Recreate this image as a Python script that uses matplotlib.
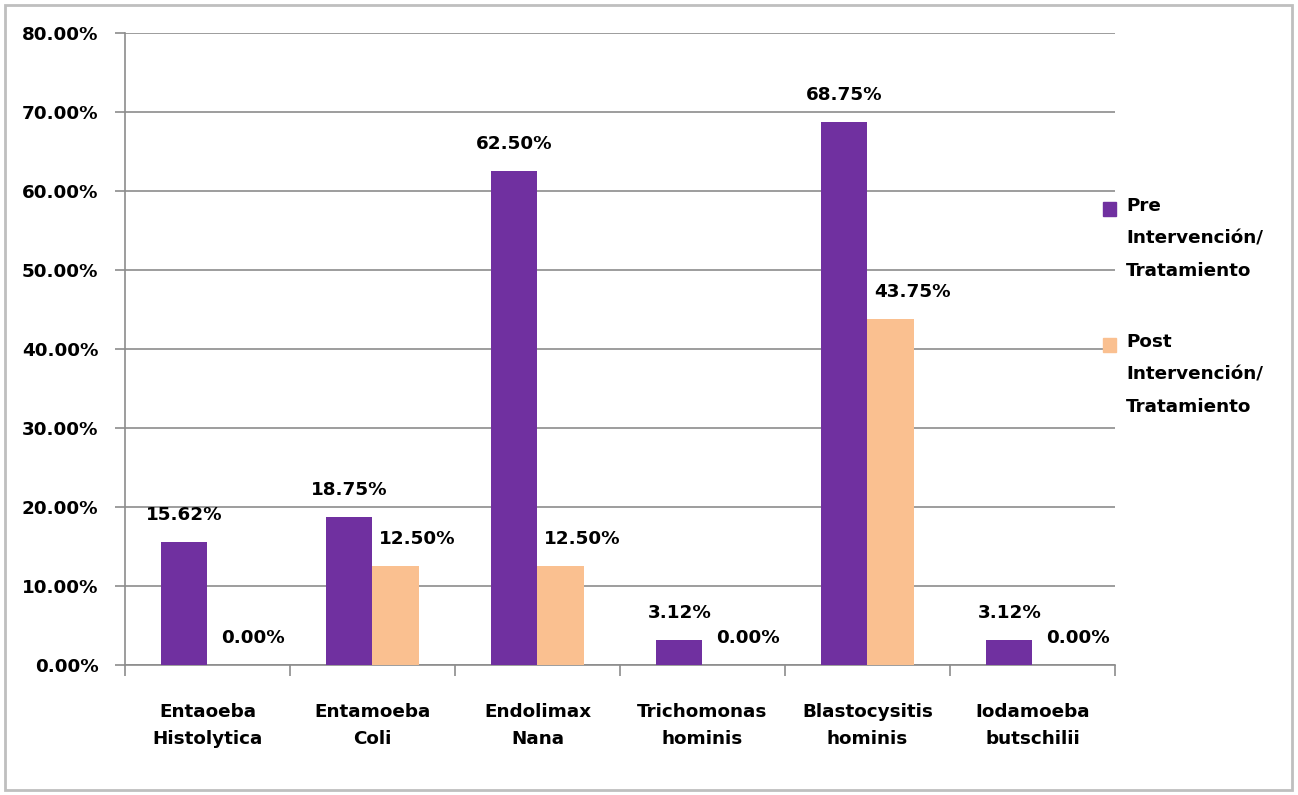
import matplotlib
matplotlib.use("Agg")
from matplotlib import pyplot as plt
from matplotlib.patches import Rectangle

categories = ['Entaoeba\nHistolytica', 'Entamoeba\nColi', 'Endolimax\nNana',
              'Trichomonas\nhominis', 'Blastocysitis\nhominis', 'Iodamoeba\nbutschilii']
pre = [15.62, 18.75, 62.50, 3.12, 68.75, 3.12]
post = [0.00, 12.50, 12.50, 0.00, 43.75, 0.00]
series_names = ['Pre\nIntervención/\nTratamiento', 'Post\nIntervención/\nTratamiento']
y_ticks = [0, 10, 20, 30, 40, 50, 60, 70, 80]

purple = '#7030A0'
peach = '#FAC090'
grid_grey = '#8C8C8C'

plt.rcParams['font.family'] = ['DejaVu Sans']
plt.rcParams['font.weight'] = 'bold'
fs = 13.2

fig = plt.figure(figsize=(12.98, 7.95), dpi=100)
ax = fig.add_axes([0.0963, 0.1635, 0.859 - 0.0963, 0.9585 - 0.1635])

x_pos = [i for i, _ in enumerate(categories)]
w = 0.28
bars_pre = ax.bar([x - w / 2 for x in x_pos], pre, width=w, color=purple, zorder=3)
bars_post = ax.bar([x + w / 2 for x in x_pos], post, width=w, color=peach, zorder=3)

ax.set_xlim(-0.5, len(categories) - 0.5)
ax.set_ylim(0, 80)
ax.set_yticks(y_ticks)
ax.set_yticklabels(['%.2f%%' % v for v in y_ticks], fontsize=fs, fontweight='bold')
ax.yaxis.grid(True, color=grid_grey, linewidth=1.2, zorder=0)
ax.tick_params(axis='y', length=7, color=grid_grey, width=1.2, pad=12)

ax.set_xticks(x_pos)
ax.set_xticklabels(categories, fontsize=fs, fontweight='bold', linespacing=1.65)
ax.set_xticks([x - 0.5 for x in range(len(categories) + 1)], minor=True)
ax.tick_params(axis='x', which='major', length=0, pad=27)
ax.tick_params(axis='x', which='minor', length=8, color=grid_grey, width=1.2)

for side in ['top', 'right']:
    ax.spines[side].set_visible(False)
for side in ['left', 'bottom']:
    ax.spines[side].set_color(grid_grey)
    ax.spines[side].set_linewidth(1.2)


def autolabel(rects, dx):
    """Value label above each bar"""
    for rect in rects:
        h = rect.get_height()
        ax.annotate('%.2f%%' % h, (rect.get_x() + rect.get_width() / 2, h),
                    xytext=(dx, 27), textcoords='offset pixels',
                    ha='center', va='center', fontsize=fs, fontweight='bold')


autolabel(bars_pre, 0)
autolabel(bars_post, 22)

# legend on the right, drawn in figure pixels
W, H = 1298, 795
for name, color, ytop in zip(series_names, [purple, peach], [209, 345]):
    fig.patches.append(Rectangle((1103 / W, 1 - (ytop + 7) / H), 13 / W, 14 / H,
                                 transform=fig.transFigure, color=color))
    fig.text(1126 / W, 1 - (ytop - 12) / H, name, fontsize=fs, fontweight='bold',
             va='top', ha='left', linespacing=2.05)

# outer chart border
fig.patches.append(Rectangle((5 / W, 5 / H), 1287 / W, 785 / H, transform=fig.transFigure,
                             fill=False, edgecolor='#BFBFBF', linewidth=2))

fig.savefig('out.png', dpi=100)
